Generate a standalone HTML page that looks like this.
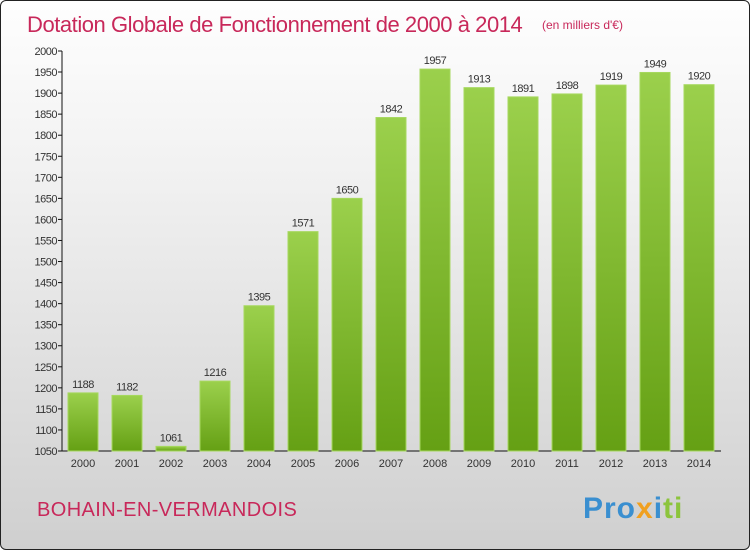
<!DOCTYPE html>
<html><head><meta charset="utf-8"><style>
body{margin:0;width:750px;height:550px;overflow:hidden;font-family:"Liberation Sans",sans-serif}
#wrap{position:absolute;left:0;top:0;width:748px;height:548px;border:1px solid #222;border-radius:6px;background:linear-gradient(#fefefe,#f2f2f2 30%,#d9d9d9 80%,#cfcfcf);overflow:hidden}
</style></head><body>
<div id="wrap">
<svg width="750" height="550">
<defs><linearGradient id="g" x1="0" y1="0" x2="0" y2="1"><stop offset="0" stop-color="#9bd04c"/><stop offset="1" stop-color="#65a014"/></linearGradient></defs>
<text x="26" y="31" font-size="22" fill="#c8285a" style="letter-spacing:-0.45px">Dotation Globale de Fonctionnement de 2000 à 2014</text>
<text x="541" y="28" font-size="12" fill="#c8285a">(en milliers d'€)</text>
<g id="axes"></g><g id="bars"></g>
<text x="36" y="515" font-size="20" fill="#c8285a" style="letter-spacing:0.4px">BOHAIN-EN-VERMANDOIS</text>
<text x="582" y="517" font-size="30" font-weight="bold" style="letter-spacing:1px"><tspan fill="#3a8fd0">Pro</tspan><tspan fill="#f0a020">x</tspan><tspan fill="#3a8fd0">i</tspan><tspan fill="#8cc43c">ti</tspan></text>
</svg></div>
<script>
const categories=["2000","2001","2002","2003","2004","2005","2006","2007","2008","2009","2010","2011","2012","2013","2014"];
const values=[1188,1182,1061,1216,1395,1571,1650,1842,1957,1913,1891,1898,1919,1949,1920];
const yTicks=[1050,1100,1150,1200,1250,1300,1350,1400,1450,1500,1550,1600,1650,1700,1750,1800,1850,1900,1950,2000];
const NS="http://www.w3.org/2000/svg";
const y=v=>450-(v-1050)*400/950;
const x=i=>82+i*44;
function mk(t,a,p){const e=document.createElementNS(NS,t);for(const k in a)e.setAttribute(k,a[k]);p.appendChild(e);return e;}
const ax=document.getElementById('axes'),bg=document.getElementById('bars');
let l=mk('line',{x1:61,y1:50,x2:61,y2:450,stroke:'#111'},ax);


l=mk('line',{x1:61,y1:450,x2:720,y2:450,stroke:'#111'},ax);


yTicks.forEach(v=>{
 mk('line',{x1:57,x2:61,y1:y(v),y2:y(v),stroke:'#111'},ax);
 const t=mk('text',{x:56,y:y(v)+4,'font-size':11,'text-anchor':'end',fill:'#333','letter-spacing':'-0.5'},ax);t.textContent=v;
 
 
});
categories.forEach((c,i)=>{
 const t=mk('text',{x:x(i),y:466,'font-size':11,'text-anchor':'middle',fill:'#333'},ax);t.textContent=c;
 
 
 const r=mk('rect',{x:x(i)-15,y:y(values[i]),width:30,height:450-y(values[i]),fill:'url(#g)',stroke:'#a6d85e','stroke-width':1},bg);
 
 
 const lb=mk('text',{x:x(i),y:y(values[i])-5,'font-size':11,'text-anchor':'middle',fill:'#333','letter-spacing':'-0.5'},bg);lb.textContent=values[i];
 
 
});
</script>
</body></html>
